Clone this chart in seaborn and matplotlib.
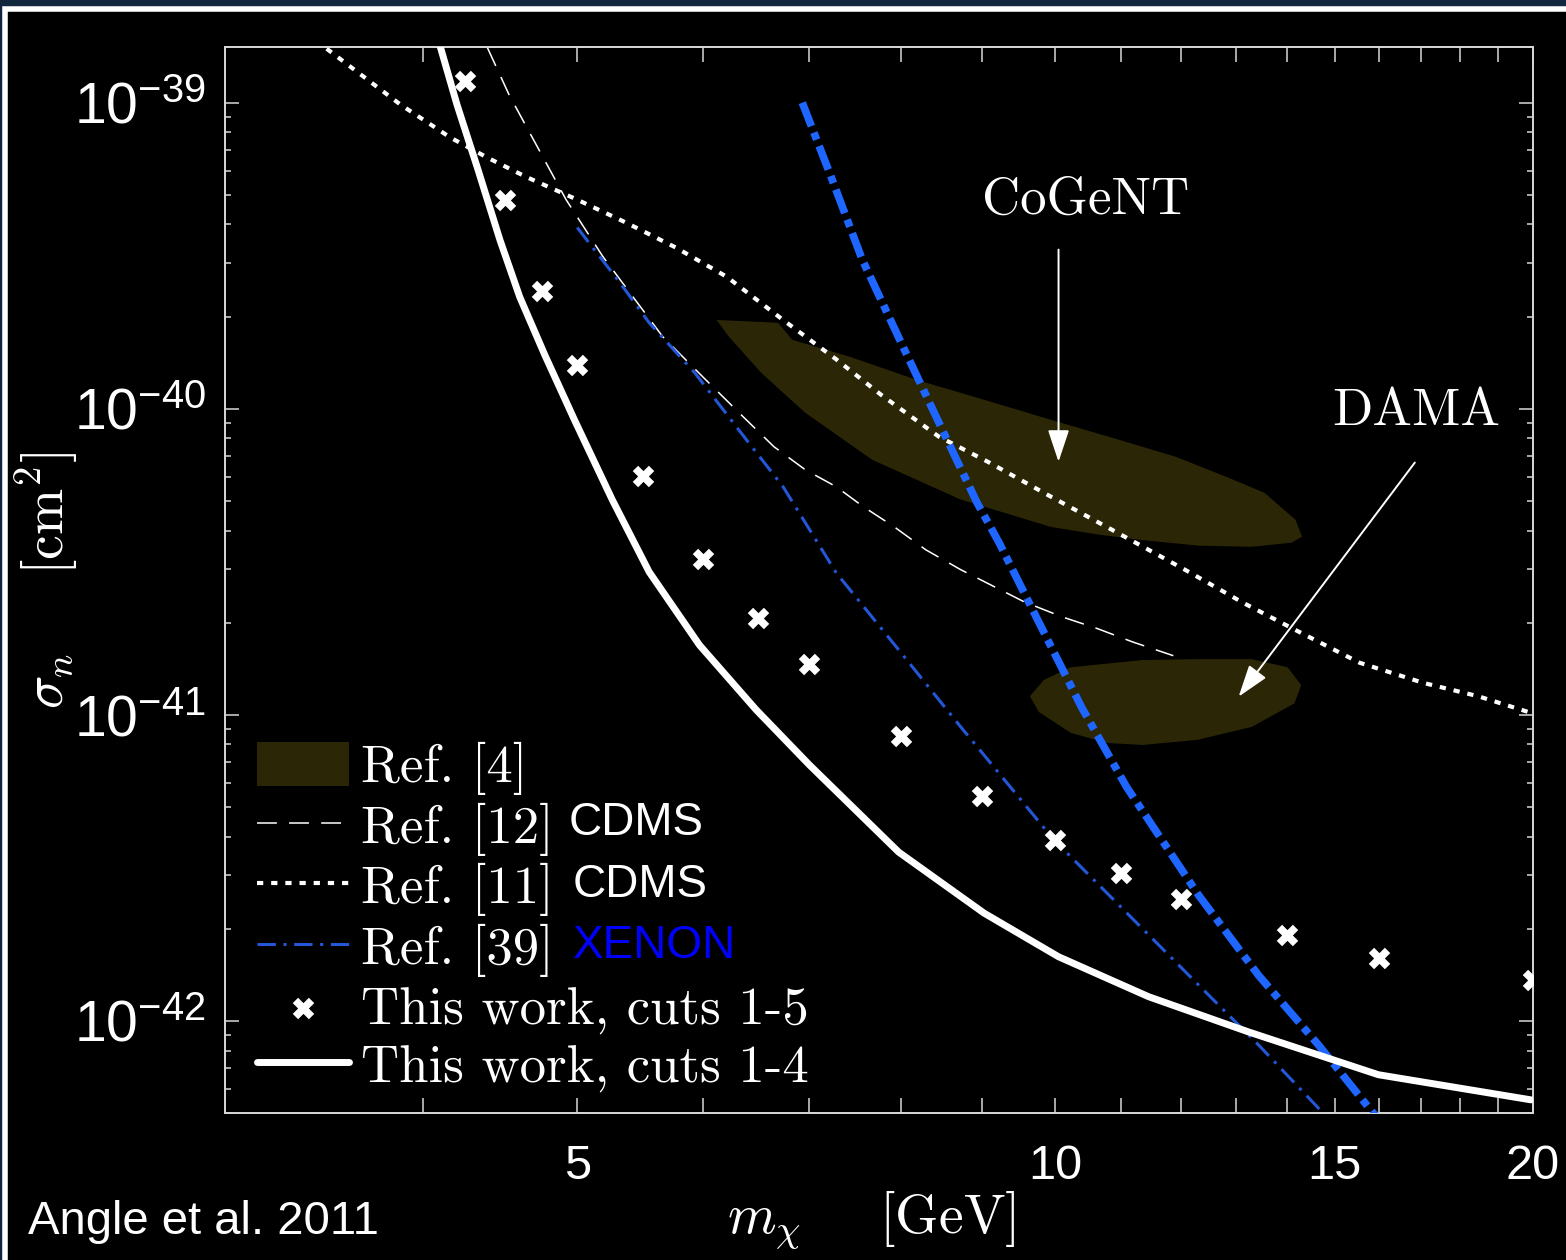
import numpy as np
import pandas as pd
import matplotlib
matplotlib.use("Agg")
import matplotlib.pyplot as plt
import seaborn as sns
from matplotlib.patches import Rectangle
from matplotlib.ticker import NullFormatter, FixedLocator

# ---------------- data (mass in GeV, cross-section in cm^2) ----------------
# This work, cuts 1-4 (solid limit)
cuts14_mass = [4.10, 4.20, 4.33, 4.47, 4.60, 4.77, 4.98, 5.26, 5.55, 5.97, 6.48, 7.00,
               7.97, 9.02, 10.05, 11.45, 13.24, 15.98, 19.94]
cuts14_sigma = [1.52e-39, 9.85e-40, 6.04e-40, 3.56e-40, 2.32e-40, 1.50e-40, 9.20e-41,
                5.05e-41, 2.93e-41, 1.69e-41, 1.04e-41, 6.87e-42, 3.56e-42, 2.25e-42,
                1.62e-42, 1.20e-42, 9.2e-43, 6.67e-43, 5.52e-43]

# This work, cuts 1-5 (points)
cuts15_mass = [4.25, 4.5, 4.75, 5, 5.5, 6, 6.5, 7, 8, 9, 10, 11, 12, 14, 16, 20]
cuts15_sigma = [1.18e-39, 4.82e-40, 2.43e-40, 1.39e-40, 6.04e-41, 3.24e-41, 2.07e-41,
                1.47e-41, 8.53e-42, 5.43e-42, 3.91e-42, 3.05e-42, 2.51e-42, 1.91e-42,
                1.61e-42, 1.36e-42]

# Ref. [12] CDMS (dashed)
cdms12_mass = [4.39, 4.53, 4.73, 4.92, 5.19, 5.66, 6.00, 6.36, 6.65, 6.96, 7.28, 7.57,
               7.92, 8.29, 8.72, 9.56, 10.10, 10.64, 11.19, 11.87]
cdms12_sigma = [1.51e-39, 1.06e-39, 7.02e-40, 4.82e-40, 3.14e-40, 1.72e-40, 1.27e-40,
                9.42e-41, 7.52e-41, 6.32e-41, 5.56e-41, 4.79e-41, 4.11e-41, 3.46e-41,
                2.98e-41, 2.34e-41, 2.09e-41, 1.91e-41, 1.73e-41, 1.56e-41]

# Ref. [11] CDMS (dotted)
cdms11_mass = [3.42, 3.87, 4.16, 4.39, 4.64, 5.00, 5.37, 5.77, 6.21, 6.74, 7.28, 7.77,
               8.45, 9.07, 9.94, 10.95, 12.07, 13.14, 14.15, 15.55, 17.07, 18.47, 20.0]
cdms11_sigma = [1.60e-39, 9.85e-40, 7.69e-40, 6.61e-40, 5.73e-40, 4.82e-40, 4.05e-40,
                3.36e-40, 2.70e-40, 1.95e-40, 1.45e-40, 1.11e-40, 8.10e-41, 6.71e-41,
                5.16e-41, 3.93e-41, 2.98e-41, 2.32e-41, 1.90e-41, 1.48e-41, 1.27e-41,
                1.15e-41, 1.01e-41]

# Ref. [39] XENON (thin dash-dot)
xenon39_mass = [5.00, 5.32, 5.55, 5.93, 6.32, 6.74, 7.28, 7.97, 8.70, 9.98, 10.97,
                12.14, 13.43, 14.75, 15.0]
xenon39_sigma = [3.91e-40, 2.58e-40, 1.91e-40, 1.31e-40, 8.53e-41, 5.56e-41, 2.91e-41,
                 1.63e-41, 9.27e-42, 3.91e-42, 2.39e-42, 1.41e-42, 8.35e-43, 5.0e-43,
                 4.6e-43]

# XENON (thick dash-dot)
xenon_thick_mass = [6.93, 7.21, 7.56, 8.00, 8.45, 8.93, 9.22, 9.77, 10.39, 11.09,
                    12.31, 13.43, 14.65, 15.86, 16.2]
xenon_thick_sigma = [1.0e-39, 5.90e-40, 3.07e-40, 1.64e-40, 9.00e-41, 4.93e-41, 3.65e-41,
                     2.00e-41, 1.06e-41, 5.82e-42, 2.58e-42, 1.41e-42, 8.35e-43, 5.0e-43,
                     4.5e-43]

# Ref. [4] regions: CoGeNT and DAMA
cogent_mass = [6.12, 6.69, 6.83, 7.42, 8.19, 9.02, 9.94, 10.97, 11.91, 12.86, 13.55,
               14.17, 14.31, 14.09, 13.30, 12.31, 11.31, 10.65, 9.94, 8.72, 7.67, 6.96,
               6.53, 6.23]
cogent_sigma = [1.95e-40, 1.91e-40, 1.68e-40, 1.48e-40, 1.24e-40, 1.07e-40, 9.20e-41,
                7.92e-41, 6.97e-41, 5.95e-41, 5.31e-41, 4.34e-41, 3.82e-41, 3.65e-41,
                3.54e-41, 3.57e-41, 3.73e-41, 3.88e-41, 4.11e-41, 5.05e-41, 6.81e-41,
                9.70e-41, 1.31e-40, 1.72e-40]
dama_mass = [9.64, 9.84, 10.23, 11.35, 12.31, 13.30, 14.01, 14.29, 14.15, 13.30, 12.29,
             11.35, 10.78, 10.23, 9.77]
dama_sigma = [1.15e-41, 1.30e-41, 1.43e-41, 1.51e-41, 1.52e-41, 1.52e-41, 1.43e-41,
              1.25e-41, 1.09e-41, 9.13e-42, 8.28e-42, 7.97e-42, 8.09e-42, 8.73e-42,
              1.02e-41]

x_major = [5, 10, 15, 20]
x_minor = [4, 6, 7, 8, 9, 11, 12, 13, 14, 16, 17, 18, 19]
y_exponents = [-42, -41, -40, -39]
legend_labels = ["Ref. [4]", "Ref. [12]", "Ref. [11]", "Ref. [39]",
                 "This work, cuts 1-5", "This work, cuts 1-4"]

# ---------------- style ----------------
sns.set_style("ticks")
plt.rcParams.update({
    "font.family": ["Liberation Sans", "DejaVu Sans"],
    "mathtext.fontset": "custom",
    "mathtext.rm": "Liberation Sans",
    "mathtext.it": "Liberation Sans:italic",
    "mathtext.bf": "Liberation Sans:bold",
    "axes.facecolor": "black",
    "figure.facecolor": "#12263d",
    "axes.edgecolor": "#d8d8d8",
    "axes.linewidth": 1.4,
    "xtick.color": "#d8d8d8",
    "ytick.color": "#d8d8d8",
    "xtick.labelcolor": "white",
    "ytick.labelcolor": "white",
    "xtick.direction": "in",
    "ytick.direction": "in",
    "xtick.top": True,
    "ytick.right": True,
    "text.color": "white",
    "axes.labelcolor": "white",
})

fig = plt.figure(figsize=(15.66, 12.6), dpi=100)
W, H = 1566.0, 1260.0

# black slide panel with a white frame, kept behind the axes
fig.patches.append(Rectangle((5 / W, -0.05), 1.2, 1 - 9 / H + 0.05,
                             transform=fig.transFigure, facecolor="black",
                             edgecolor="white", linewidth=4.0, zorder=-10))

ax = fig.add_axes([225 / W, 1 - 1113 / H, (1533 - 225) / W, (1113 - 47) / H])
ax.set_zorder(1)
ax.set_facecolor("black")
ax.set_xscale("log")
ax.set_yscale("log")

fill_color = "#2b2606"
cog = ax.fill(cogent_mass, cogent_sigma, color=fill_color, lw=0, zorder=1)[0]
ax.fill(dama_mass, dama_sigma, color=fill_color, lw=0, zorder=1)

def draw_line(mass, sigma, **kw):
    df = pd.DataFrame({"m": mass, "s": sigma})
    sns.lineplot(data=df, x="m", y="s", sort=False, estimator=None, ax=ax,
                 legend=False, **kw)
    return ax.get_lines()[-1]

h_cdms12 = draw_line(cdms12_mass, cdms12_sigma, color="white", lw=1.1, zorder=3)
h_cdms12.set_dashes((13, 8))
h_cdms11 = draw_line(cdms11_mass, cdms11_sigma, color="white", lw=3.0, zorder=3)
h_cdms11.set_dashes((1.5, 1.9))
h_xe39 = draw_line(xenon39_mass, xenon39_sigma, color="#2357d8", lw=2.2, zorder=3)
h_xe39.set_dashes((6, 2.5, 1, 2.5))
h_xet = draw_line(xenon_thick_mass, xenon_thick_sigma, color="#1e66ff", lw=5.5, zorder=3)
h_xet.set_dashes((3.3, 0.9, 1.0, 0.9))
h_c14 = draw_line(cuts14_mass, cuts14_sigma, color="white", lw=5.0, zorder=4)

sns.scatterplot(x=cuts15_mass, y=cuts15_sigma, marker="X", s=240, color="white",
                linewidth=0, ax=ax, legend=False, zorder=5)
h_c15 = ax.collections[-1]

# ---------------- axes ----------------
ax.set_xlim(3, 20)
ax.set_ylim(5.0e-43, 1.52e-39)
ax.xaxis.set_major_locator(FixedLocator(x_major))
ax.set_xticklabels([str(v) for v in x_major])
ax.xaxis.set_minor_locator(FixedLocator(x_minor))
ax.xaxis.set_minor_formatter(NullFormatter())

y_major = [10.0 ** e for e in y_exponents]
y_minor = [k * 10.0 ** e for e in [-43] + y_exponents for k in range(2, 10)
           if 5.0e-43 <= k * 10.0 ** e <= 1.52e-39]
ax.yaxis.set_major_locator(FixedLocator(y_major))
ax.set_yticklabels([r"$10^{%d}$" % e for e in y_exponents])
ax.yaxis.set_minor_locator(FixedLocator(y_minor))
ax.yaxis.set_minor_formatter(NullFormatter())

ax.tick_params(axis="x", which="both", length=11, width=1.1, labelsize=35, pad=22)
ax.tick_params(axis="y", which="major", length=10, width=1.1, labelsize=41, pad=14)
ax.tick_params(axis="y", which="minor", length=4.5, width=1.1)
for s in ax.spines.values():
    s.set_color("#d8d8d8")
    s.set_visible(True)

ax.set_xlabel(r"$m_\chi\quad\;\;\mathrm{[GeV]}$", fontsize=40, math_fontfamily="cm")
ax.xaxis.set_label_coords(0.494, -0.072)
ax.set_ylabel(r"$\sigma_n\quad\;\;\mathrm{[cm^2]}$", fontsize=40, math_fontfamily="cm")
ax.yaxis.set_label_coords(-0.11, 0.5)

# ---------------- annotations ----------------
serif = dict(family="cmr10", size=38, color="white")
ax.text(10.45, 4.80e-40, "CoGeNT", ha="center", va="center", **serif)
ax.text(16.88, 9.80e-41, "DAMA", ha="center", va="center", **serif)
arrow = dict(arrowstyle="-|>,head_length=0.9,head_width=0.3", color="white",
             lw=1.4, mutation_scale=22, shrinkA=0, shrinkB=0)
ax.annotate("", xy=(10.05, 6.71e-41), xytext=(10.05, 3.31e-40), arrowprops=arrow, zorder=6)
ax.annotate("", xy=(13.05, 1.146e-41), xytext=(16.85, 6.67e-41), arrowprops=arrow, zorder=6)

leg = ax.legend([cog, h_cdms12, h_cdms11, h_xe39, h_c15, h_c14], legend_labels,
                loc="lower left", bbox_to_anchor=(0.0245, 0.019), frameon=False,
                prop=dict(family="cmr10", size=38), labelcolor="white",
                handlelength=1.75, handletextpad=0.22, labelspacing=0.14,
                borderpad=0, borderaxespad=0, handleheight=0.9)

fig.text(569 / W, 1 - 823 / H, "CDMS", fontsize=33, color="white", va="center", zorder=5)
fig.text(573 / W, 1 - 885 / H, "CDMS", fontsize=33, color="white", va="center", zorder=5)
fig.text(573 / W, 1 - 946 / H, "XENON", fontsize=33, color="#0000ff", va="center", zorder=5)
fig.text(28 / W, 1 - 1222 / H, "Angle et al. 2011", fontsize=34, color="white",
         va="center", zorder=5)

fig.savefig("out.png", dpi=100, facecolor=fig.get_facecolor())
